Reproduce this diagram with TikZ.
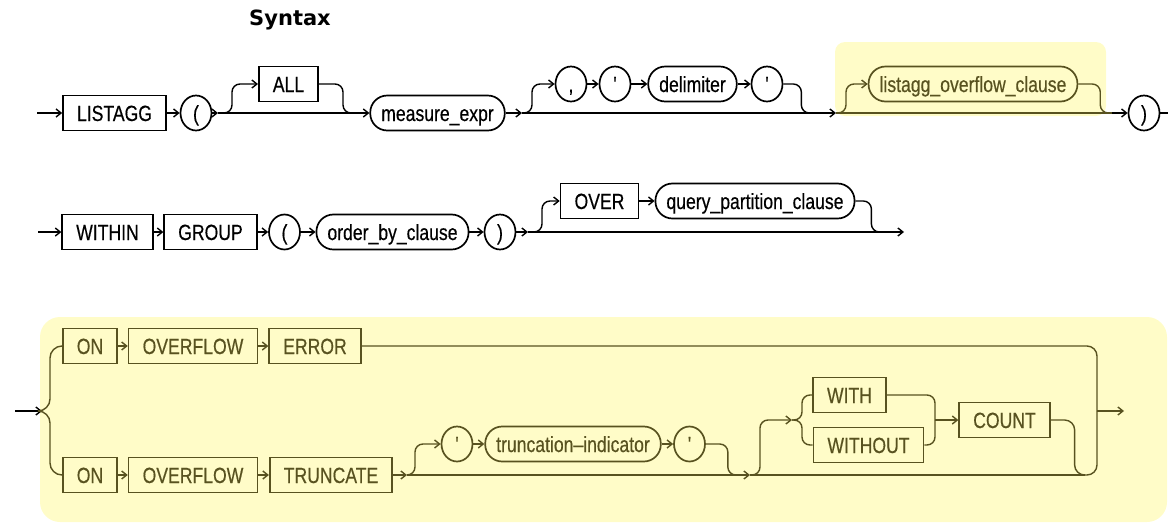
\documentclass[tikz,border=0pt]{standalone}
\usepackage{fontspec}
\newfontfamily\rrfont{Liberation Sans}[FakeStretch=0.8, FakeBold=0.4]
\newfontfamily\headfont{DejaVu Sans}
\usetikzlibrary{shapes.geometric, arrows.meta, backgrounds}
\definecolor{hlfill}{RGB}{255,252,200}
\definecolor{hlink}{RGB}{88,82,32}

\begin{document}
\begin{tikzpicture}[
  x=1pt, y=-1pt,
  kw/.style={rectangle, draw, line width=1.7pt, minimum height=35pt, inner xsep=14pt, inner ysep=0pt,
             text height=16pt, text depth=0pt, font=\rrfont\fontsize{22}{24}\selectfont},
  nt/.style={kw, rounded corners=17pt, inner xsep=11pt},
  ch/.style={ellipse, draw, line width=1.7pt, minimum width=31pt, minimum height=35pt, inner sep=0pt,
             text height=16pt, text depth=0pt, font=\rrfont\fontsize{22}{24}\selectfont},
  ln/.style={line width=1.4pt},
  arr/.style={ln, -{Straight Barb[length=5pt, width=8pt]}},
  rnd/.style={rounded corners=8pt},
]
\useasboundingbox (0,0) rectangle (1168,523);

\node[font=\headfont\bfseries\fontsize{21}{24}\selectfont] (title) at (290,20) {Syntax};

%% Row 1 nodes
\node[kw] (listagg) at (114.5,113) {LISTAGG};
\node[ch] (lpa)     at (196,113)   {(};
\node[kw] (all)     at (288.5,84)  {ALL};
\node[nt] (mexpr)   at (437.5,113) {measure\_expr};
\node[ch] (comma)   at (571,84)    {,};
\node[ch] (qa)      at (615,84)    {'};
\node[nt] (delim)   at (692.5,84)  {delimiter};
\node[ch] (qb)      at (767,84)    {'};
\node[nt, hlink] (loc) at (973,84) {listagg\_overflow\_clause};
\node[ch] (rpa)     at (1144,113)  {)};

\coordinate (in1)  at (37,113);
\coordinate (j1)   at (218,113);
\coordinate (k1)   at (352,113);
\coordinate (j2)   at (522,113);
\coordinate (k2)   at (815,113);
\coordinate (j3)   at (836,113);
\coordinate (k3)   at (1112,113);
\coordinate (out1) at (1168,113);

%% Row 1 arrows
\draw[arr] (in1) -- (listagg);
\draw[arr] (listagg) -- (lpa);
\draw[arr] (lpa) -- (j1);
\draw[arr] (j1) -- (mexpr);
\draw[arr, rnd] (j1) -- ++(14,0) |- (all);
\draw[ln, rnd] (all.east) -- ++(24,0) |- (k1);
\draw[arr] (mexpr) -- (j2);
\draw[arr] (j2) -- (j3);
\draw[arr, rnd] (j2) -- ++(10,0) |- (comma);
\draw[arr] (comma) -- (qa);
\draw[arr] (qa) -- (delim);
\draw[arr] (delim) -- (qb);
\draw[ln, rnd] (qb.east) -- ++(18,0) |- (k2);
\begin{scope}[hlink]
  \draw[arr, rnd] (j3) -- ++(10,0) |- (loc);
  \draw[ln, rnd] (loc.east) -- ++(22,0) |- (k3);
  \draw[ln] (j3) -- (k3);
\end{scope}
\draw[arr] (k3) -- (rpa);
\draw[ln] (rpa) -- (out1);

%% Row 2 nodes
\node[kw] (within) at (107.5,232) {WITHIN};
\node[kw] (group)  at (210.5,232) {GROUP};
\node[ch] (lpb)    at (284.5,232) {(};
\node[nt] (obc)    at (392.5,232) {order\_by\_clause};
\node[ch] (rpb)    at (500,232)   {)};
\node[kw] (over)   at (599.5,201) {OVER};
\node[nt] (qpc)    at (755,201)   {query\_partition\_clause};

\coordinate (in2)  at (38,232);
\coordinate (j4)   at (528,232);
\coordinate (k4)   at (886,232);
\coordinate (out2) at (904,232);

%% Row 2 arrows
\draw[arr] (in2) -- (within);
\draw[arr] (within) -- (group);
\draw[arr] (group) -- (lpb);
\draw[arr] (lpb) -- (obc);
\draw[arr] (obc) -- (rpb);
\draw[arr] (rpb) -- (j4);
\draw[arr] (j4) -- (out2);
\draw[arr, rnd] (j4) -- ++(14,0) |- (over);
\draw[arr] (over) -- (qpc);
\draw[ln, rnd] (qpc.east) -- ++(16,0) |- (k4);

%% Row 3: listagg_overflow_clause
\coordinate (in3)  at (15,411);
\coordinate (j5)   at (42,411);
\coordinate (j6)   at (407,475);
\coordinate (k5)   at (738,475);
\coordinate (j7)   at (750,475);
\coordinate (j8)   at (792,420);
\coordinate (j9)   at (935,420);
\coordinate (k6)   at (1085,475);
\coordinate (jo)   at (1097,411);
\coordinate (out3) at (1124,411);

\draw[arr] (in3) -- (j5);
\begin{scope}[hlink]
  \node[kw] (on1)     at (90,346)    {ON};
  \node[kw] (ovf1)    at (193,346)   {OVERFLOW};
  \node[kw] (err)     at (315,346)   {ERROR};
  \node[kw] (on2)     at (90,475)    {ON};
  \node[kw] (ovf2)    at (193,475)   {OVERFLOW};
  \node[kw] (trunc)   at (331,475)   {TRUNCATE};
  \node[ch] (qc)      at (457,444)   {'};
  \node[nt] (tind)    at (573,444)   {truncation\textendash indicator};
  \node[ch] (qd)      at (689.5,444) {'};
  \node[kw] (with)    at (849.5,395) {WITH};
  \node[kw] (without) at (868.5,445) {WITHOUT};
  \node[kw] (count)   at (1004.5,420) {COUNT};

  \draw[ln, rounded corners=12pt] (j5) -- ++(8,0) |- (on1);
  \draw[ln, rounded corners=12pt] (j5) -- ++(8,0) |- (on2);
  \draw[arr] (on1) -- (ovf1);
  \draw[arr] (ovf1) -- (err);
  \draw[arr] (on2) -- (ovf2);
  \draw[arr] (ovf2) -- (trunc);
  \draw[arr] (trunc) -- (j6);
  \draw[arr, rnd] (j6) -- ++(8,0) |- (qc);
  \draw[arr] (qc) -- (tind);
  \draw[arr] (tind) -- (qd);
  \draw[ln, rnd] (qd.east) -- ++(22,0) |- (k5);
  \draw[arr] (j6) -- (j7);
  \draw[arr, rnd] (j7) -- ++(10,0) |- (j8);
  \draw[ln, rnd] (j8) -- ++(10,0) |- (with);
  \draw[ln, rnd] (j8) -- ++(10,0) |- (without);
  \draw[ln, rnd] (with) -| (j9);
  \draw[ln, rnd] (without) -| (j9);
  \draw[arr] (j9) -- (count);
  \draw[ln, rounded corners=10pt] (count.east) -- ++(24,0) |- (k6);
  \draw[ln] (j7) -- (k6);
  \draw[ln, rounded corners=10pt] (err) -| (jo);
  \draw[ln, rounded corners=10pt] (k6) -| (jo);
  \draw[arr] (jo) -- (out3);
\end{scope}

%% Highlight boxes
\begin{scope}[on background layer]
  \fill[hlfill, rounded corners=10pt] (835,42) rectangle (1106,116);
  \fill[hlfill, rounded corners=20pt] (40,317) rectangle (1167,522);
\end{scope}

\end{tikzpicture}
\end{document}
